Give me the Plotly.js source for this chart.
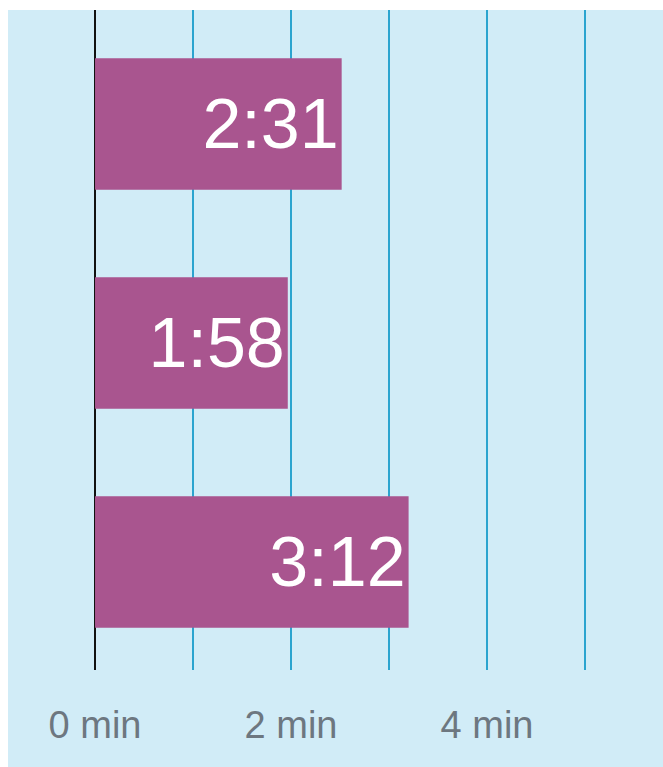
<!DOCTYPE html>
<html>
<head>
<meta charset="utf-8">
<script src="https://cdn.plot.ly/plotly-3.0.1.min.js"></script>
<style>
  html, body { margin: 0; padding: 0; background: #ffffff; width: 663px; height: 767px; overflow: hidden; }
  #chart { position: absolute; left: 8px; top: 10px; width: 655px; height: 757px; }
</style>
</head>
<body>
<div id="chart"></div>
<script>
// Data
const categories = ["A", "B", "C"];
const minutes = [2.517, 1.967, 3.2];       // 2:31, 1:58, 3:12
const barLabels = ["2:31", "1:58", "3:12"];
const tickValues = [0, 2, 4];
const tickLabels = ["0 min", "2 min", "4 min"];

const trace = {
  type: "bar",
  orientation: "h",
  y: categories,
  x: minutes,
  text: barLabels,
  textposition: "inside",
  insidetextanchor: "end",
  textangle: 0,
  constraintext: "none",
  textfont: { family: "Liberation Sans, Arial, sans-serif", size: 70, color: "#ffffff" },
  marker: { color: "#a9558f", line: { width: 0 } },
  hoverinfo: "none"
};

const layout = {
  width: 655,
  height: 757,
  margin: { l: 0, r: 0, t: 0, b: 97, pad: 0 },
  paper_bgcolor: "#d1ecf7",
  plot_bgcolor: "#d1ecf7",
  showlegend: false,
  bargap: 0.4,
  xaxis: {
    range: [-0.888, 5.796],
    tickvals: tickValues,
    ticktext: tickLabels,
    showgrid: true,
    gridcolor: "#2ba4cf",
    gridwidth: 2.5,
    minor: { dtick: 1, tick0: 0, showgrid: true, gridcolor: "#2ba4cf", gridwidth: 2.5, ticks: "" },
    zeroline: true,
    zerolinecolor: "#111111",
    zerolinewidth: 2.5,
    showline: false,
    ticks: "outside",
    ticklen: 0,
    ticklabelstandoff: 21,
    tickfont: { family: "Liberation Sans, Arial, sans-serif", size: 38, color: "#6d7780" },
    fixedrange: true
  },
  yaxis: {
    type: "category",
    categoryorder: "array",
    categoryarray: categories,
    range: [2.493, -0.5205],
    showticklabels: false,
    showgrid: false,
    zeroline: false,
    showline: false,
    ticks: "",
    fixedrange: true
  }
};

Plotly.newPlot("chart", [trace], layout, { displayModeBar: false, staticPlot: true });
</script>
</body>
</html>
